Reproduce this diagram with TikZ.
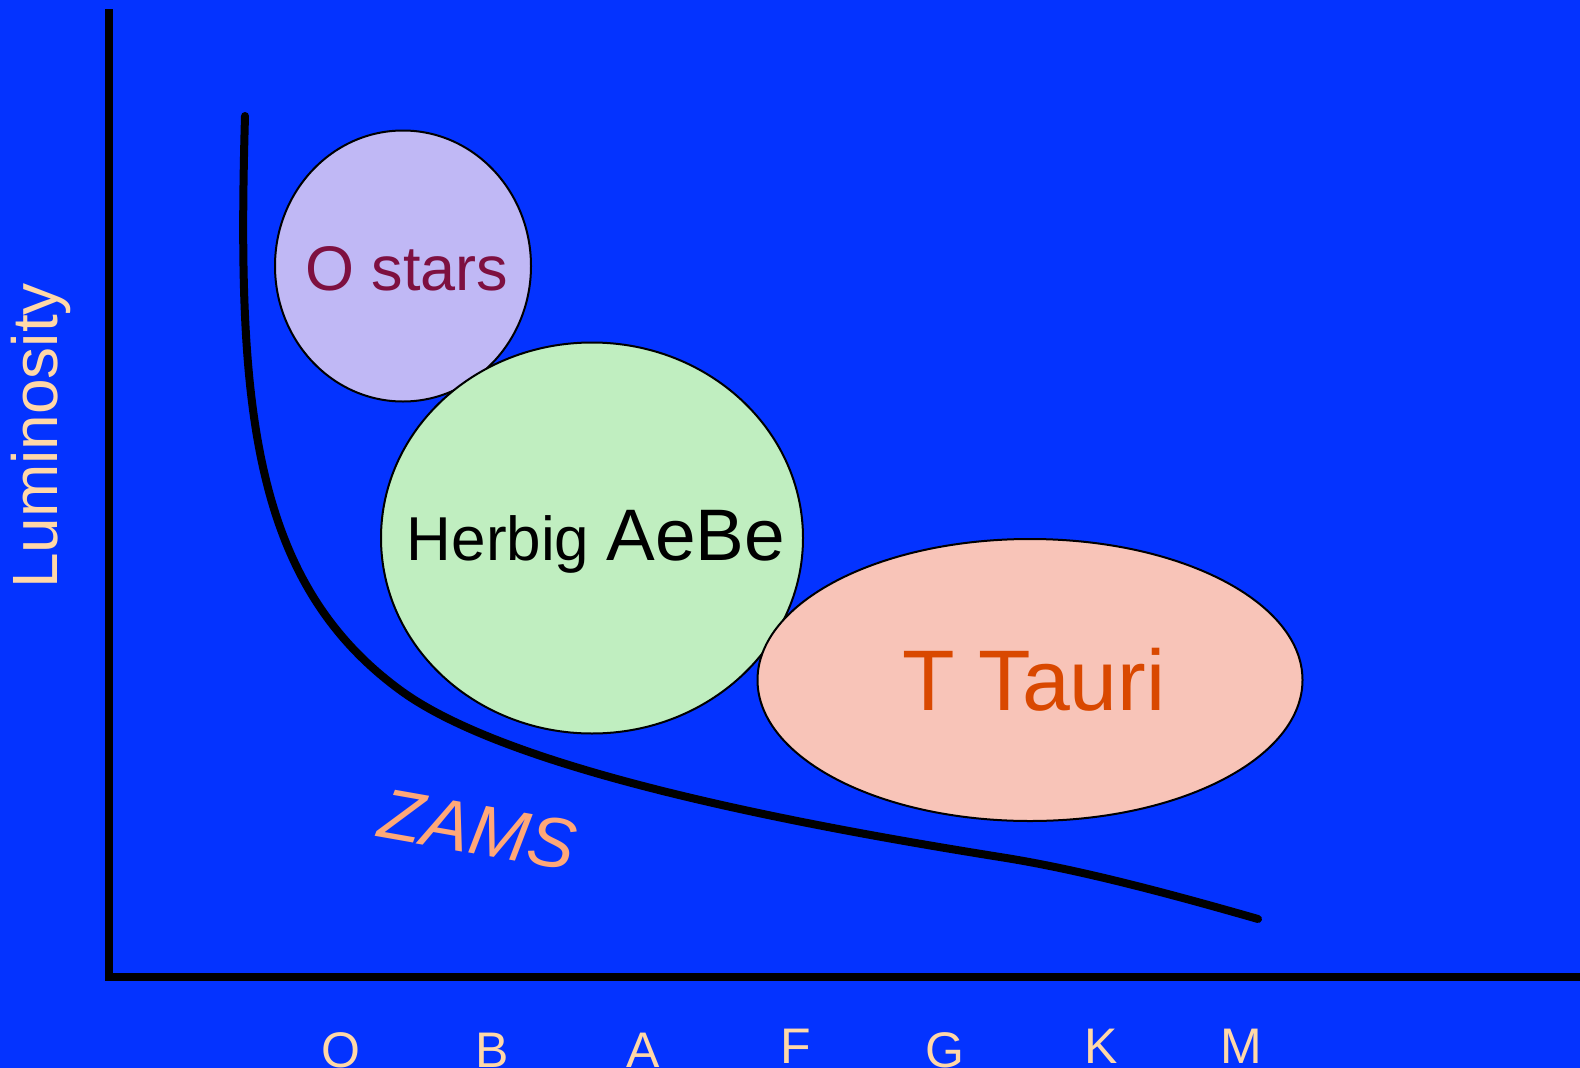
\documentclass[tikz,border=0pt]{standalone}
\usepackage{fontspec}
\setmainfont{Liberation Sans}
\definecolor{bgblue}{HTML}{0433FF}
\definecolor{ofill}{HTML}{C0B8F5}
\definecolor{otext}{HTML}{7E1040}
\definecolor{hfill}{HTML}{C0EEC0}
\definecolor{tfill}{HTML}{F8C4B8}
\definecolor{ttext}{HTML}{D94800}
\definecolor{zams}{HTML}{FFA878}
\definecolor{peach}{HTML}{FFD8A8}
\tikzset{
  axisline/.style={line width=8pt, black},
  zamsline/.style={line width=8pt, black, line cap=round, line join=round},
  region/.style={draw=black, line width=2pt},
  letter/.style={text=peach, font=\fontsize{50}{56}\selectfont, anchor=base, inner sep=0pt},
}
\begin{document}
\begin{tikzpicture}[x=1pt,y=-1pt]
\fill[bgblue] (0,0) rectangle (1580,1068);
\useasboundingbox (0,0) rectangle (1580,1068);
% axes
\coordinate (ytop) at (109,9);
\coordinate (origin) at (109,981);
\coordinate (xorig) at (105,977);
\coordinate (xend) at (1585,977);
\draw[axisline] (ytop) -- (origin);
\draw[axisline] (xorig) -- (xend);
% ZAMS curve
\coordinate (zs) at (245,116);
\coordinate (z1) at (400,690);
\coordinate (z2) at (1000,857);
\coordinate (ze) at (1258,919);
\draw[zamsline] (zs) .. controls (237,400) and (250,580) .. (z1)
  .. controls (510,771) and (800,825) .. (z2)
  .. controls (1070,868) and (1150,888) .. (ze);
% regions
\draw[region, fill=ofill] (403,266) ellipse [x radius=128pt, y radius=135.5pt];
\draw[region, fill=hfill] (592,538) ellipse [x radius=211pt, y radius=195.5pt];
\draw[region, fill=tfill] (1030,680) ellipse [x radius=272.5pt, y radius=141pt];
% labels
\node[anchor=base, inner sep=0pt, text=otext, font=\fontsize{63}{70}\selectfont] (ostars) at (407,290) {O stars};
\node[anchor=base, inner sep=0pt, text=black] (herbig) at (596,560) {\fontsize{62}{68}\selectfont Herbig \fontsize{73}{80}\selectfont AeBe};
\node[anchor=base, inner sep=0pt, text=ttext, font=\fontsize{86}{94}\selectfont] (ttauri) at (1034,710) {T Tauri};
\node[inner sep=0pt, text=zams, rotate=-10, font=\fontsize{71}{78}\selectfont\itshape] (zamslabel) at (478,830) {ZAMS};
\node[inner sep=0pt, text=peach, rotate=90, font=\fontsize{64}{70}\selectfont] (lum) at (41,436) {Luminosity};
% spectral types
\node[letter] (lO) at (341,1067) {O};
\node[letter] (lB) at (492,1067) {B};
\node[letter] (lA) at (643,1067) {A};
\node[letter] (lF) at (796,1063) {F};
\node[letter] (lG) at (945,1067) {G};
\node[letter] (lK) at (1101,1063) {K};
\node[letter] (lM) at (1241,1063) {M};
\end{tikzpicture}
\end{document}
